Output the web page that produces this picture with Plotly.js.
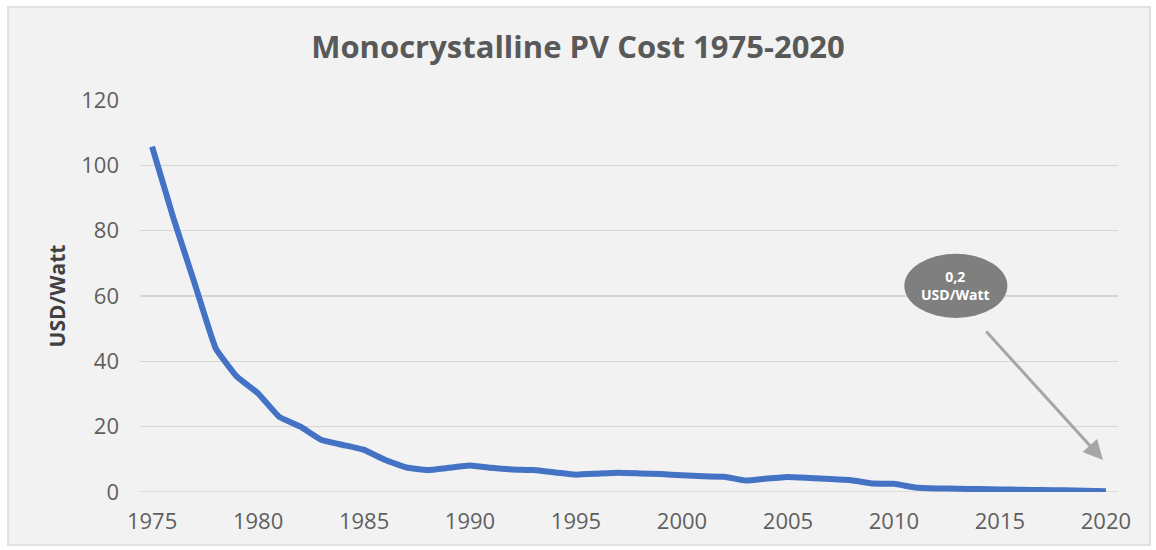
<!DOCTYPE html>
<html>
<head>
<meta charset="utf-8">
<script src="https://cdn.plot.ly/plotly-3.0.1.min.js"></script>
<style>html,body{margin:0;padding:0;background:#fff;}#chart{width:1156px;height:550px;}</style>
</head>
<body>
<div id="chart"></div>
<script>
const years = [1975,1976,1977,1978,1979,1980,1981,1982,1983,1984,1985,1986,1987,1988,1989,1990,1991,1992,1993,1994,1995,1996,1997,1998,1999,2000,2001,2002,2003,2004,2005,2006,2007,2008,2009,2010,2011,2012,2013,2014,2015,2016,2017,2018,2019,2020];
const costUsdPerWatt = [105.7,84,64,44,35.3,30.2,23,20,15.9,14.4,12.9,9.8,7.5,6.7,7.4,8.1,7.4,6.9,6.7,6.0,5.3,5.6,5.9,5.7,5.5,5.1,4.8,4.7,3.5,4.1,4.6,4.3,4.0,3.6,2.6,2.5,1.4,1.1,1.0,0.9,0.8,0.7,0.6,0.5,0.35,0.2];
const xTicks = [1975,1980,1985,1990,1995,2000,2005,2010,2015,2020];
const yTicks = [0,20,40,60,80,100,120];
const titleText = "Monocrystalline PV Cost 1975-2020";
const yTitle = "USD/Watt";
const calloutText = "0,2<br>USD/Watt";

const FONT = "Open Sans, sans-serif";
const trace = {
  x: years, y: costUsdPerWatt, type: 'scatter', mode: 'lines',
  line: {color: '#4472c4', width: 6, shape: 'spline', smoothing: 0.3},
  hoverinfo: 'x+y'
};

const layout = {
  width: 1156, height: 550,
  margin: {l: 140, r: 38, t: 100, b: 58},
  paper_bgcolor: '#ffffff',
  plot_bgcolor: 'rgba(0,0,0,0)',
  showlegend: false,
  title: {text: '<b>' + titleText + '</b>', font: {family: FONT, size: 31, color: '#595959'}, x: 0.5, xanchor: 'center', y: 0.915, yanchor: 'middle'},
  xaxis: {
    range: [1974.43, 2020.57], tickvals: xTicks, ticktext: xTicks.map(String),
    showgrid: false, zeroline: false, showline: false, ticks: '',
    ticklabelstandoff: 14,
    tickfont: {family: FONT, size: 22, color: '#5f5f5f'}
  },
  yaxis: {
    range: [0, 120], tickvals: yTicks, ticktext: yTicks.map(String),
    showgrid: true, gridcolor: '#d6d6d6', gridwidth: 1.6, zeroline: false, showline: false, ticks: '',
    ticklen: 0, ticklabelstandoff: 20,
    tickfont: {family: FONT, size: 22, color: '#5f5f5f'},
    title: {text: '<b>' + yTitle + '</b>', font: {family: FONT, size: 21, color: '#404040'}, standoff: 9}
  },
  shapes: [
    {type: 'rect', xref: 'paper', yref: 'paper', x0: -0.135, x1: 1.0327, y0: -0.135, y1: 1.237, layer: 'below', fillcolor: '#f2f2f2', line: {color: '#d9d9d9', width: 1.5}},
    {type: 'line', xref: 'paper', yref: 'y', x0: 0, x1: 1, y0: 0, y1: 0, layer: 'below', line: {color: '#d6d6d6', width: 1.6}},
    {type: 'circle', xref: 'x', yref: 'y', x0: 2010.49, x1: 2015.35, y0: 53.3, y1: 72.9, fillcolor: '#7f7f7f', line: {width: 0}, layer: 'above'}
  ],
  annotations: [
    {x: 2012.92, y: 63.1, xref: 'x', yref: 'y', text: '<b>' + calloutText + '</b>', showarrow: false, font: {family: FONT, size: 14, color: '#ffffff'}, align: 'center'},
    {x: 2019.86, y: 9.8, ax: 2014.29, ay: 49.6, xref: 'x', yref: 'y', axref: 'x', ayref: 'y', text: '', showarrow: true, arrowhead: 2, arrowsize: 1.3, arrowwidth: 3, arrowcolor: '#a6a6a6'}
  ]
};

Plotly.newPlot('chart', [trace], layout, {displayModeBar: false, staticPlot: true});
</script>
</body>
</html>
